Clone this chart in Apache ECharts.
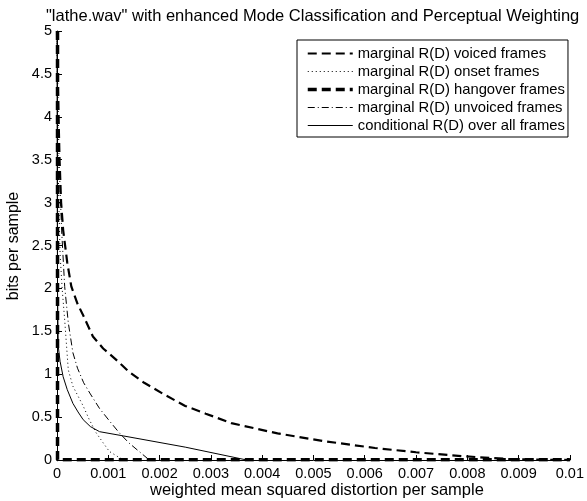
<!DOCTYPE html>
<html><head><meta charset="utf-8">
<script src="https://cdn.jsdelivr.net/npm/echarts@6/dist/echarts.min.js"></script>
<style>html,body{margin:0;padding:0;background:#fff}#c{width:587px;height:501px}</style>
</head><body><div id="c"></div>
<script>
const titleText = '"lathe.wav" with enhanced Mode Classification and Perceptual Weighting';
const xLabel = 'weighted mean squared distortion per sample';
const yLabel = 'bits per sample';
const seriesNames = ['marginal R(D) voiced frames','marginal R(D) onset frames','marginal R(D) hangover frames','marginal R(D) unvoiced frames','conditional R(D) over all frames'];

const voicedX = [0,0.00001,0.00003,0.00005,0.00008,0.00012,0.0002,0.00028,0.0004,0.0005,0.0007,0.0009,0.00115,0.0014,0.0017,0.0021,0.0025,0.0029,0.0034,0.0043,0.0052,0.0062,0.0070,0.0079,0.0088,0.0095,0.01];
const voicedY = [5,4.5,4.0,3.5,3.0,2.68,2.3,2.02,1.82,1.7,1.44,1.3,1.17,1.03,0.9,0.76,0.63,0.54,0.43,0.31,0.22,0.14,0.09,0.044,0.012,0.003,0];

const onsetX = [0,0.00001,0.00002,0.00004,0.00006,0.0001,0.00015,0.00022,0.00031,0.00051,0.00063,0.00076,0.0009,0.00102,0.00121,0.0013];
const onsetY = [5,4.2,3.5,2.9,2.4,2.0,1.63,1.05,0.86,0.63,0.47,0.32,0.2,0.1,0.03,0];

const hangoverX = [0.00001,0.00001,0.01];
const hangoverY = [5,0.003,0.003];

const unvoicedX = [0,0.00002,0.00004,0.00007,0.00009,0.00015,0.00022,0.00031,0.0004,0.00052,0.00065,0.00083,0.00103,0.00121,0.0014,0.0016,0.0018];
const unvoicedY = [5,4.2,3.5,3.0,2.68,2.02,1.6,1.25,1.07,0.9,0.77,0.6,0.45,0.32,0.2,0.1,0];

const condX = [0,0.000005,0.00001,0.00002,0.000025,0.00006,0.00012,0.0002,0.00031,0.00041,0.00051,0.00065,0.00083,0.0013,0.0025,0.0037];
const condY = [5,3,2,1.5,1.32,1.15,0.97,0.82,0.66,0.56,0.47,0.39,0.33,0.28,0.15,0];

const zip = (xs, ys) => xs.map((x, i) => [x, ys[i]]);
const font = 'Liberation Sans, Arial, Helvetica, sans-serif';
const styles = [
  {width: 2.2, type: [9, 5]},
  {width: 1, type: [1, 3]},
  {width: 3.5, type: [9, 5]},
  {width: 1, type: [7, 3, 1, 3]},
  {width: 1, type: 'solid'}
];

const chart = echarts.init(document.getElementById('c'), null, {renderer: 'canvas'});
const mk = (i, xs, ys) => ({
  name: seriesNames[i], type: 'line', data: zip(xs, ys), symbol: 'none', showSymbol: false,
  animation: false, lineStyle: {color: '#000', width: styles[i].width, type: styles[i].type}, itemStyle: {color: '#000'}, z: 3
});
chart.setOption({
  animation: false,
  backgroundColor: '#fff',
  title: {text: titleText, left: 41, top: 3, textStyle: {fontFamily: font, fontSize: 16.5, fontWeight: 'normal', color: '#000'}},
  grid: {left: 57, right: 10, top: 31, bottom: 41, containLabel: false},
  xAxis: {type: 'value', min: 0, max: 0.01, interval: 0.001,
    axisLine: {onZero: false, lineStyle: {color: '#000', width: 1}},
    axisTick: {inside: true, length: 5, lineStyle: {color: '#000'}},
    axisLabel: {color: '#000', fontFamily: font, fontSize: 14.5, margin: 6, showMaxLabel: true},
    splitLine: {show: false}},
  yAxis: {type: 'value', min: 0, max: 5, interval: 0.5,
    axisLine: {show: true, onZero: false, lineStyle: {color: '#000', width: 1}},
    axisTick: {show: true, inside: true, length: 5, lineStyle: {color: '#000'}},
    axisLabel: {color: '#000', fontFamily: font, fontSize: 14.5, margin: 5},
    splitLine: {show: false}},
  legend: {orient: 'vertical', left: 297, top: 40, itemWidth: 45, itemHeight: 12, itemGap: 3,
    padding: [6, 3, 4, 9], borderColor: '#000', borderWidth: 1, backgroundColor: '#fff', borderRadius: 0,
    itemStyle: {opacity: 0},
    textStyle: {fontFamily: font, fontSize: 14.8, color: '#000'},
    data: seriesNames.map((n, i) => ({name: n, lineStyle: {color: '#000', width: styles[i].width, type: styles[i].type}}))},
  graphic: [
    {type: 'text', left: 150, top: 482, style: {text: xLabel, font: '16.5px ' + font, fill: '#000'}},
    {type: 'text', x: 14, y: 246, rotation: Math.PI / 2, style: {text: yLabel, font: '16px ' + font, fill: '#000', textAlign: 'center', textVerticalAlign: 'middle'}}
  ],
  series: [
    mk(0, voicedX, voicedY),
    mk(1, onsetX, onsetY),
    mk(2, hangoverX, hangoverY),
    mk(3, unvoicedX, unvoicedY),
    mk(4, condX, condY)
  ]
});
</script></body></html>
